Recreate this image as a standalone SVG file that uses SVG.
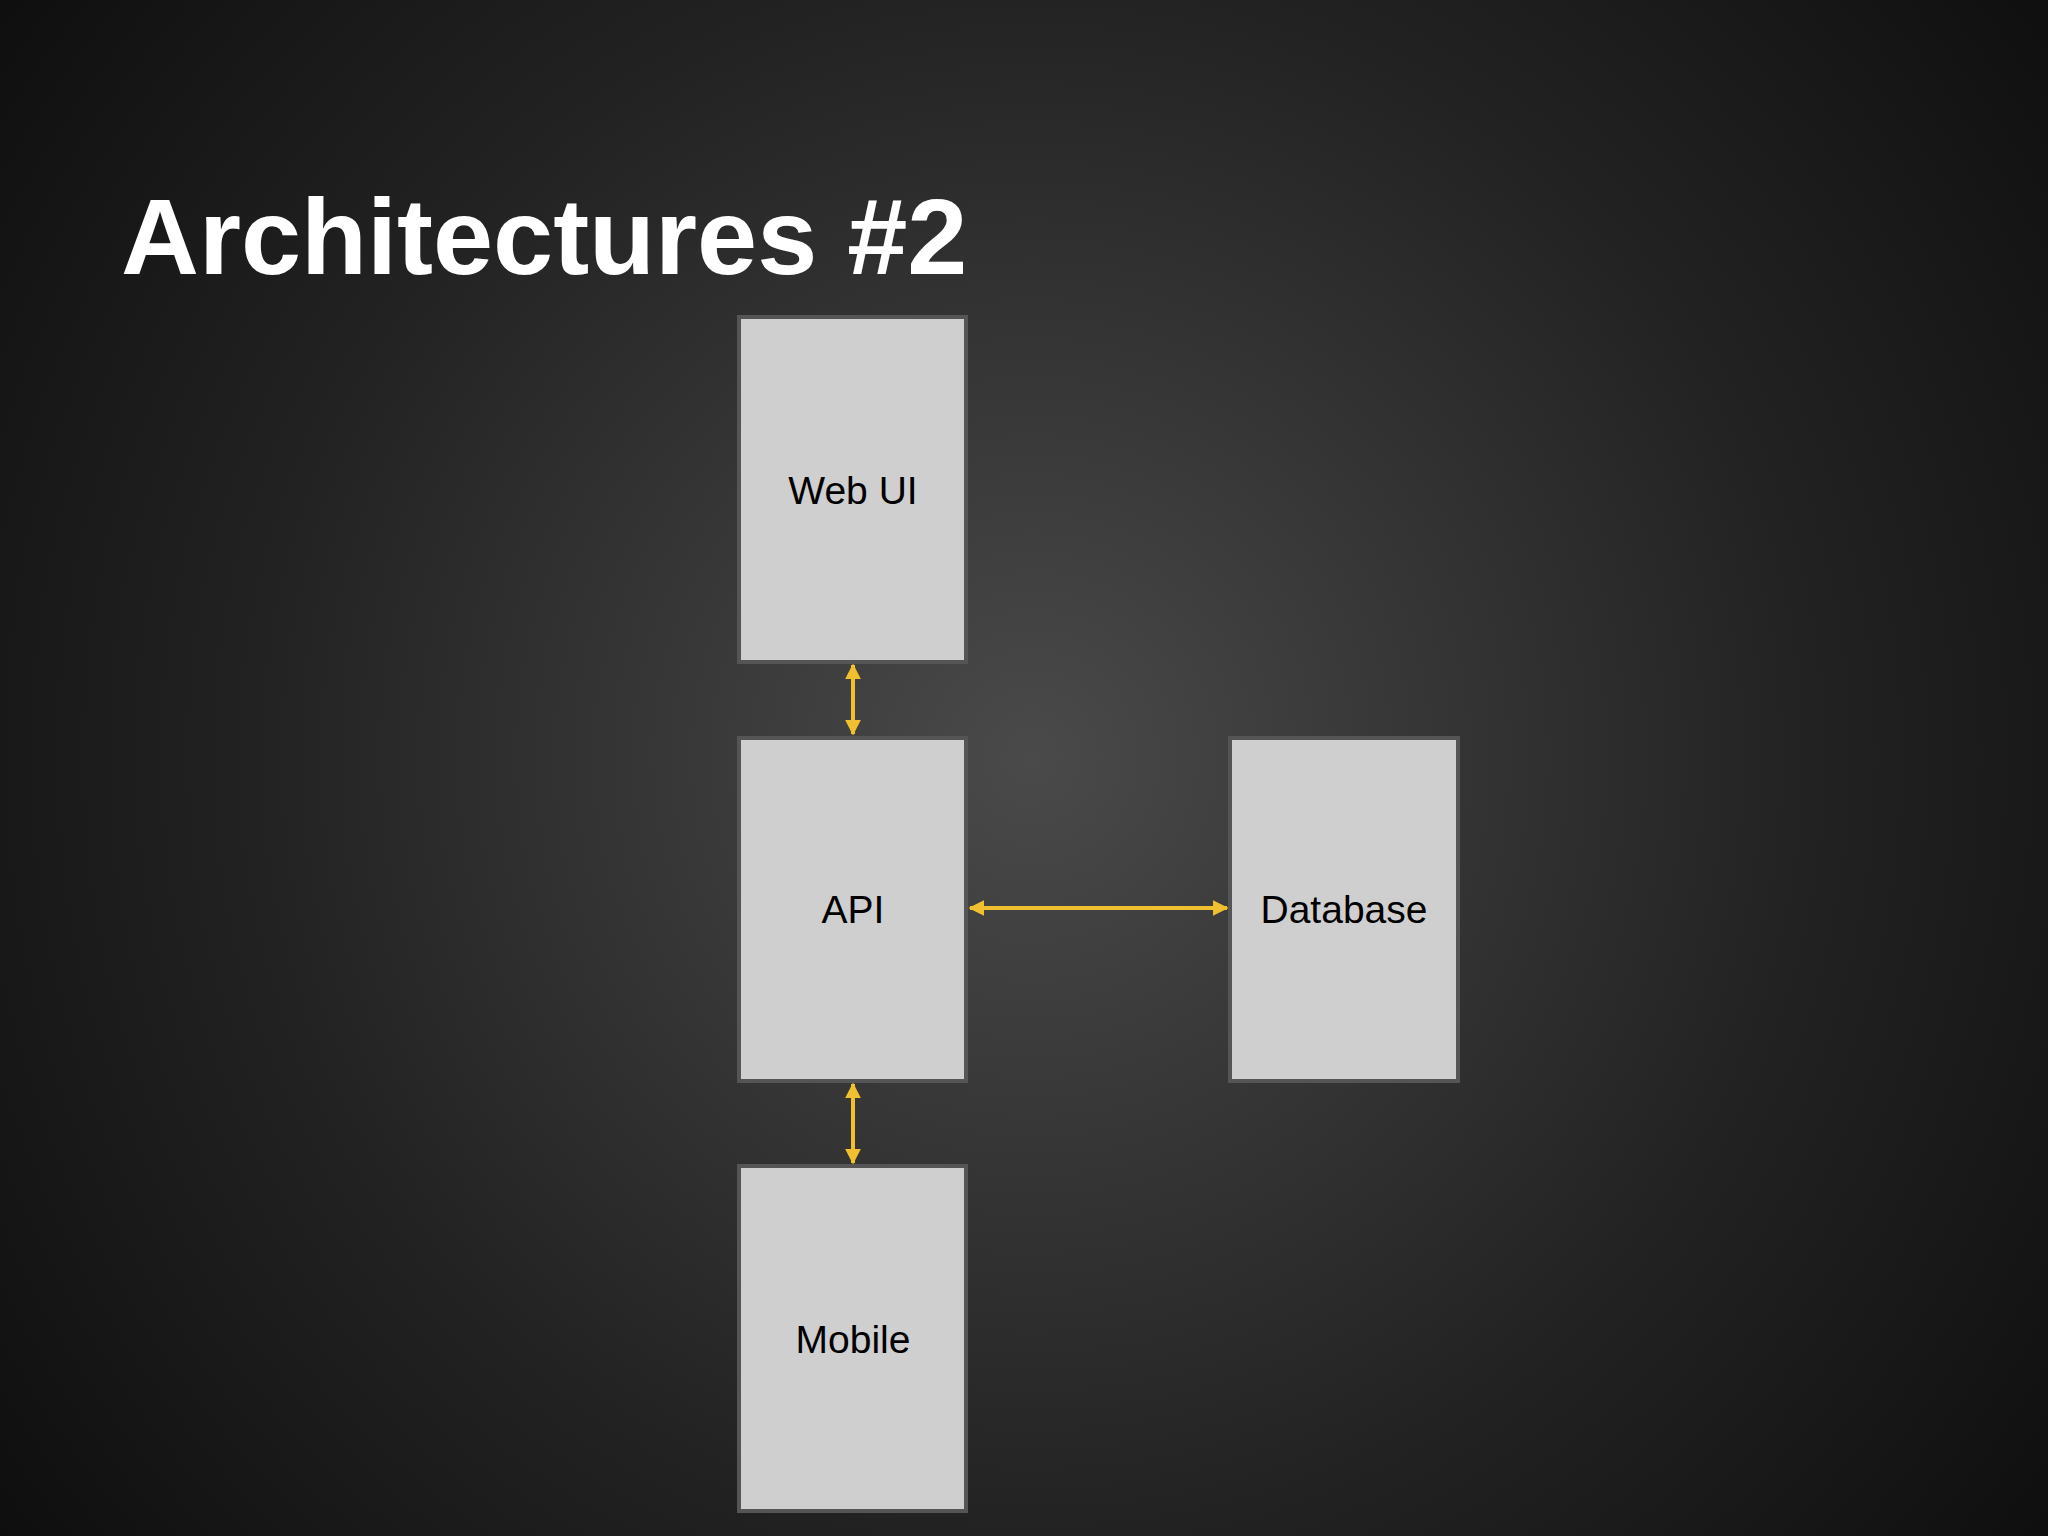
<svg xmlns="http://www.w3.org/2000/svg" width="2048" height="1536" viewBox="0 0 2048 1536">
<defs>
<radialGradient id="bg" cx="1032" cy="757" r="1300" gradientUnits="userSpaceOnUse">
<stop offset="0" stop-color="#4a4a4a"/><stop offset="0.6" stop-color="#222"/><stop offset="1" stop-color="#0e0e0e"/>
</radialGradient>
<marker id="ah" viewBox="0 0 10 10" refX="9" refY="5" markerWidth="4" markerHeight="4" orient="auto-start-reverse" markerUnits="strokeWidth">
<path d="M0,0 L10,5 L0,10 z" fill="#f0c030"/></marker>
</defs>
<style>
.box{fill:#cfcfcf;stroke:#555;stroke-width:4}
.lbl{font-family:"Liberation Sans",Arial,sans-serif;font-size:39px;fill:#000;text-anchor:middle}
.c{stroke:#f0c030;stroke-width:4;fill:none;marker-start:url(#ah);marker-end:url(#ah)}
</style>
<rect width="2048" height="1536" fill="url(#bg)"/>
<text x="121" y="274" font-family="Liberation Sans,Arial,sans-serif" font-weight="bold" font-size="108" fill="#fff">Architectures #2</text>
<g id="webui"><rect class="box" x="739" y="317" width="227" height="345"/><text class="lbl" x="853" y="504">Web UI</text></g>
<g id="api"><rect class="box" x="739" y="738" width="227" height="343"/><text class="lbl" x="853" y="923">API</text></g>
<g id="database"><rect class="box" x="1230" y="738" width="228" height="343"/><text class="lbl" x="1344" y="923">Database</text></g>
<g id="mobile"><rect class="box" x="739" y="1166" width="227" height="345"/><text class="lbl" x="853" y="1353">Mobile</text></g>
<g id="connectors">
<line class="c" x1="853" y1="665" x2="853" y2="734"/>
<line class="c" x1="970" y1="908" x2="1227" y2="908"/>
<line class="c" x1="853" y1="1084" x2="853" y2="1163"/>
</g>
</svg>
